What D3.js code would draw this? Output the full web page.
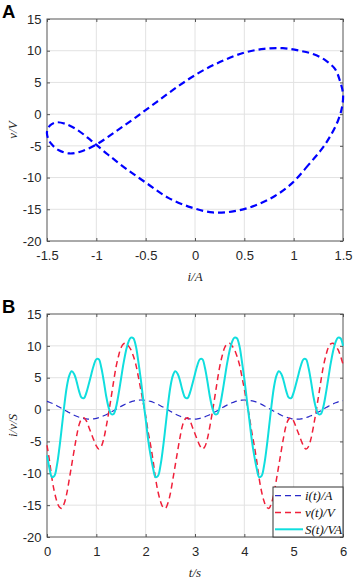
<!DOCTYPE html>
<html>
<head>
<meta charset="utf-8">
<script src="https://cdn.jsdelivr.net/npm/d3@7"></script>
<style>
  body { margin: 0; background: #fff; }
  svg { display: block; }
</style>
</head>
<body>
<div id="container"></div>
<script>
/* DATA (t step 0.05 s) */
const time = [0,0.05,0.1,0.15,0.2,0.25,0.3,0.35,0.4,0.45,0.5,0.55,0.6,0.65,0.7,0.75,0.8,0.85,0.9,0.95,
  1,1.05,1.1,1.15,1.2,1.25,1.3,1.35,1.4,1.45,1.5,1.55,1.6,1.65,1.7,1.75,1.8,1.85,1.9,1.95,
  2,2.05,2.1,2.15,2.2,2.25,2.3,2.35,2.4,2.45,2.5,2.55,2.6,2.65,2.7,2.75,2.8,2.85,2.9,2.95,
  3,3.05,3.1,3.15,3.2,3.25,3.3,3.35,3.4,3.45,3.5,3.55,3.6,3.65,3.7,3.75,3.8,3.85,3.9,3.95,
  4,4.05,4.1,4.15,4.2,4.25,4.3,4.35,4.4,4.45,4.5,4.55,4.6,4.65,4.7,4.75,4.8,4.85,4.9,4.95,
  5,5.05,5.1,5.15,5.2,5.25,5.3,5.35,5.4,5.45,5.5,5.55,5.6,5.65,5.7,5.75,5.8,5.85,5.9,5.95,6];

const current = [1.28,1.15,0.99,0.81,0.61,0.40,0.18,-0.04,-0.27,-0.48,-0.69,-0.88,-1.05,-1.20,-1.32,-1.41,-1.47,-1.50,-1.49,-1.45,
  -1.38,-1.27,-1.14,-0.98,-0.80,-0.60,-0.39,-0.17,0.06,0.28,0.50,0.70,0.89,1.06,1.21,1.33,1.42,1.47,1.50,1.49,1.45,1.37,
  1.28,1.15,0.99,0.81,0.61,0.40,0.18,-0.04,-0.27,-0.48,-0.69,-0.88,-1.05,-1.20,-1.32,-1.41,-1.47,-1.50,-1.49,-1.45,
  -1.38,-1.27,-1.14,-0.98,-0.80,-0.60,-0.39,-0.17,0.06,0.28,0.50,0.70,0.89,1.06,1.21,1.33,1.42,1.47,1.50,1.49,1.45,1.37,
  1.28,1.15,0.99,0.81,0.61,0.40,0.18,-0.04,-0.27,-0.48,-0.69,-0.88,-1.05,-1.20,-1.32,-1.41,-1.47,-1.50,-1.49,-1.45,
  -1.38,-1.27,-1.14,-0.98,-0.80,-0.60,-0.39,-0.17,0.06,0.28,0.50,0.70,0.89,1.06,1.21,1.33,1.42];

const voltage = [-5.6,-8.0,-10.8,-12.9,-14.4,-15.3,-15.5,-14.7,-13.2,-11.0,-8.7,-6.4,-4.2,-2.4,-1.5,-1.3,-1.8,-2.8,-3.8,-4.8,
  -5.7,-6.2,-5.8,-4.6,-2.7,-0.5,1.9,4.4,6.7,8.4,9.7,10.3,10.4,10.0,9.4,8.4,7.1,5.2,3.2,1.1,-1.0,-3.5,
  -5.6,-8.0,-10.8,-12.9,-14.4,-15.3,-15.5,-14.7,-13.2,-11.0,-8.7,-6.4,-4.2,-2.4,-1.5,-1.3,-1.8,-2.8,-3.8,-4.8,
  -5.7,-6.2,-5.8,-4.6,-2.7,-0.5,1.9,4.4,6.7,8.4,9.7,10.3,10.4,10.0,9.4,8.4,7.1,5.2,3.2,1.1,-1.0,-3.5,
  -5.6,-8.0,-10.8,-12.9,-14.4,-15.3,-15.5,-14.7,-13.2,-11.0,-8.7,-6.4,-4.2,-2.4,-1.5,-1.3,-1.8,-2.8,-3.8,-4.8,
  -5.7,-6.2,-5.8,-4.6,-2.7,-0.5,1.9,4.4,6.7,8.4,9.7,10.3,10.4,10.0,9.4,8.4,7.1];

const power = [-7.2,-9.2,-10.6,-10.4,-8.8,-6.1,-2.8,0.6,3.5,5.3,6.0,5.6,4.4,2.9,1.9,1.8,2.7,4.1,5.6,7.0,
  7.9,7.9,6.6,4.5,2.1,0.3,-0.7,-0.7,0.4,2.4,4.8,7.2,9.2,10.6,11.3,11.2,10.0,7.6,4.8,1.6,-1.5,-4.7,
  -7.2,-9.2,-10.6,-10.4,-8.8,-6.1,-2.8,0.6,3.5,5.3,6.0,5.6,4.4,2.9,1.9,1.8,2.7,4.1,5.6,7.0,
  7.9,7.9,6.6,4.5,2.1,0.3,-0.7,-0.7,0.4,2.4,4.8,7.2,9.2,10.6,11.3,11.2,10.0,7.6,4.8,1.6,-1.5,-4.7,
  -7.2,-9.2,-10.6,-10.4,-8.8,-6.1,-2.8,0.6,3.5,5.3,6.0,5.6,4.4,2.9,1.9,1.8,2.7,4.1,5.6,7.0,
  7.9,7.9,6.6,4.5,2.1,0.3,-0.7,-0.7,0.4,2.4,4.8,7.2,9.2,10.6,11.3,11.2,10.0];

const loopPoints = 42; // one period of the i-v loop (panel A)

const currentTicks = [-1.5, -1, -0.5, 0, 0.5, 1, 1.5];
const timeTicks = [0, 1, 2, 3, 4, 5, 6];
const valueTicks = [-20, -15, -10, -5, 0, 5, 10, 15];
const legendNames = ["i(t)/A", "v(t)/V", "S(t)/VA"];

/* CONSTANTS */
const width = 360, height = 579;
const sans = "Arial, 'Liberation Sans', sans-serif";
const serif = "'Times New Roman', 'Liberation Serif', serif";
const fmt = d => String(d); // matlab style hyphen minus

const svg = d3.select("#container")
  .append("svg")
  .attr("width", width)
  .attr("height", height);

// draws grid, box, inward ticks on all four sides and tick labels
function drawFrame(x, y, xTicks, yTicks) {
  const [x0, x1] = x.range();
  const [y0, y1] = y.range(); // y0 bottom, y1 top
  const g = svg.append("g");

  g.selectAll(".gx").data(xTicks.slice(1, -1)).join("line")
    .attr("x1", d => x(d)).attr("x2", d => x(d))
    .attr("y1", y1).attr("y2", y0)
    .attr("stroke", "#e2e2e2");
  g.selectAll(".gy").data(yTicks.slice(1, -1)).join("line")
    .attr("x1", x0).attr("x2", x1)
    .attr("y1", d => y(d)).attr("y2", d => y(d))
    .attr("stroke", "#e2e2e2");

  const style = sel => {
    sel.select(".domain").remove();
    sel.selectAll(".tick line").attr("stroke", "#555");
    sel.selectAll(".tick text").attr("fill", "#262626")
      .style("font-family", sans).style("font-size", "13px");
  };

  g.append("g").attr("transform", `translate(0,${y0})`)
    .call(d3.axisBottom(x).tickValues(xTicks).tickFormat(fmt).tickSize(-3).tickPadding(10))
    .call(style);
  g.append("g").attr("transform", `translate(0,${y1})`)
    .call(d3.axisTop(x).tickValues(xTicks).tickFormat("").tickSize(-3))
    .call(style);
  g.append("g").attr("transform", `translate(${x0},0)`)
    .call(d3.axisLeft(y).tickValues(yTicks).tickFormat(fmt).tickSize(-3).tickPadding(5.5))
    .call(style);
  g.append("g").attr("transform", `translate(${x1},0)`)
    .call(d3.axisRight(y).tickValues(yTicks).tickFormat("").tickSize(-3))
    .call(style);

  g.append("rect")
    .attr("x", x0).attr("y", y1)
    .attr("width", x1 - x0).attr("height", y0 - y1)
    .attr("fill", "none").attr("stroke", "#555");
}

function axisLabels(x, y, xText, yText, panel) {
  const [x0, x1] = x.range();
  const [y0, y1] = y.range();
  svg.append("text")
    .attr("x", (x0 + x1) / 2).attr("y", y0 + 40)
    .attr("text-anchor", "middle")
    .style("font-family", serif).style("font-style", "italic").style("font-size", "13px")
    .attr("fill", "#262626")
    .text(xText);
  svg.append("text")
    .attr("transform", `translate(17,${(y0 + y1) / 2}) rotate(-90)`)
    .attr("text-anchor", "middle")
    .style("font-family", serif).style("font-style", "italic").style("font-size", "13px")
    .attr("fill", "#262626")
    .text(yText);
  svg.append("text")
    .attr("x", 2).attr("y", y1 - 0.7)
    .style("font-family", sans).style("font-weight", "bold").style("font-size", "18.5px")
    .attr("fill", "#000")
    .text(panel);
}

/* PANEL A : i-v loop */
const xA = d3.scaleLinear().domain([-1.5, 1.5]).range([47, 343]);
const yA = d3.scaleLinear().domain([-20, 15]).range([241, 19]);
drawFrame(xA, yA, currentTicks, valueTicks);

const loop = d3.range(loopPoints).map(k => ({ i: current[k], v: voltage[k] }));
svg.append("path")
  .datum(loop)
  .attr("fill", "none")
  .attr("stroke", "#0000ff")
  .attr("stroke-width", 2.2)
  .attr("stroke-dasharray", "7,4")
  .attr("d", d3.line().x(d => xA(d.i)).y(d => yA(d.v)).curve(d3.curveCatmullRomClosed));

axisLabels(xA, yA, "i/A", "v/V", "A");

/* PANEL B : time series */
const xB = d3.scaleLinear().domain([0, 6]).range([47, 343]);
const yB = d3.scaleLinear().domain([-20, 15]).range([537, 314]);
drawFrame(xB, yB, timeTicks, valueTicks);

const series = [
  { name: legendNames[0], values: current, color: "#2a2ac8", width: 1.2, dash: "6,4" },
  { name: legendNames[1], values: voltage, color: "#f0203a", width: 1.5, dash: "6,4" },
  { name: legendNames[2], values: power, color: "#10dede", width: 2, dash: null }
];

const lineB = d3.line()
  .x((d, k) => xB(time[k]))
  .y(d => yB(d))
  .curve(d3.curveCatmullRom);

svg.selectAll(".series")
  .data(series)
  .join("path")
  .attr("class", "series")
  .attr("fill", "none")
  .attr("stroke", d => d.color)
  .attr("stroke-width", d => d.width)
  .attr("stroke-dasharray", d => d.dash)
  .attr("d", d => lineB(d.values));

// legend, anchored to the bottom-right corner of the axes
const lx1 = xB.range()[1], ly1 = yB.range()[0];
const legend = svg.append("g").attr("transform", `translate(${lx1 - 70},${ly1 - 50})`);
legend.append("rect")
  .attr("width", 70).attr("height", 50)
  .attr("fill", "#fff").attr("stroke", "#333");
const rows = legend.selectAll(".row")
  .data(series)
  .join("g")
  .attr("transform", (d, k) => `translate(0,${8.7 + k * 16.8})`);
rows.append("line")
  .attr("x1", 2).attr("x2", 30)
  .attr("stroke", d => d.color)
  .attr("stroke-width", d => d.width)
  .attr("stroke-dasharray", d => d.dash);
rows.append("text")
  .attr("x", 32).attr("y", 4.3)
  .style("font-family", serif).style("font-style", "italic").style("font-size", "13px")
  .attr("fill", "#111")
  .text(d => d.name);

axisLabels(xB, yB, "t/s", "i/v/S", "B");
</script>
</body>
</html>
